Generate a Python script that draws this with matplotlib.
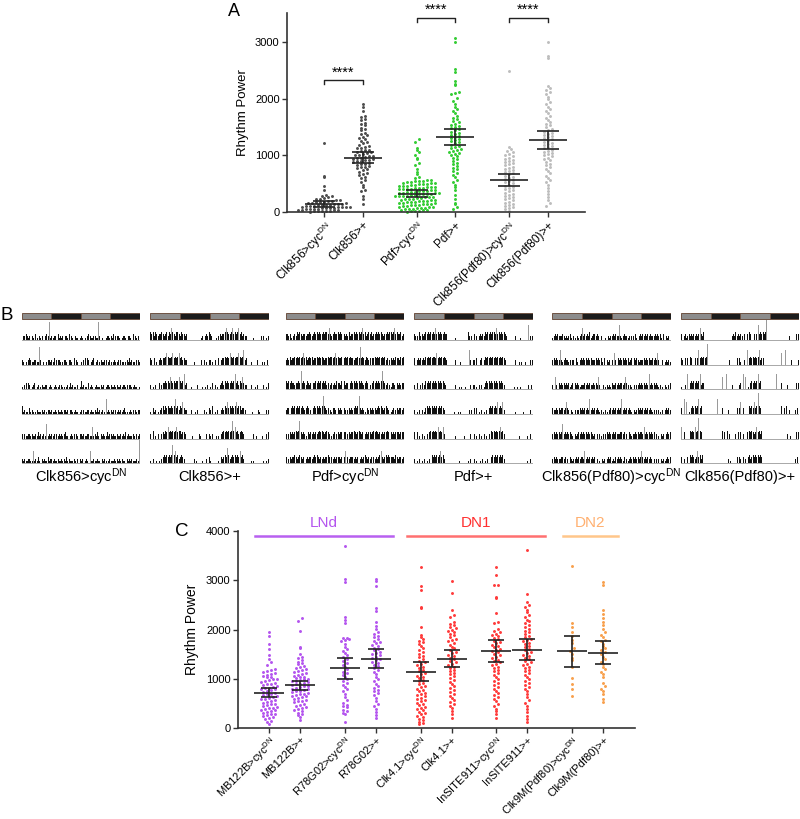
import numpy as np
import matplotlib
matplotlib.use("Agg")
import matplotlib.pyplot as plt
from matplotlib.patches import Rectangle

plt.rcParams["font.family"] = ["Liberation Sans", "DejaVu Sans"]
plt.rcParams["mathtext.fontset"] = "custom"
plt.rcParams["mathtext.rm"] = "Liberation Sans"
plt.rcParams["mathtext.it"] = "Liberation Sans:italic"

# ---------------- panel A data ----------------
a_labels = ["Clk856>cyc$^{\\rm DN}$", "Clk856>+", "Pdf>cyc$^{\\rm DN}$", "Pdf>+",
            "Clk856(Pdf80)>cyc$^{\\rm DN}$", "Clk856(Pdf80)>+"]
a_colors = ["#4d4d4d", "#4d4d4d", "#33cc33", "#33cc33", "#bdbdbd", "#bdbdbd"]
a_means = [140, 960, 320, 1320, 560, 1270]
a_err = [50, 100, 60, 140, 105, 155]

a_clk_cyc = [1210, 640, 610, 450, 380, 300, 285, 270, 255, 240, 232, 220, 210, 200, 195, 185,
             180, 172, 165, 160, 152, 148, 140, 135, 130, 126, 120, 115, 110, 106, 100, 96,
             92, 88, 84, 80, 75, 70, 66, 62, 58, 54, 50, 45, 40, 36, 32, 28, 24, 20, 16,
             12, 8, 4, 0]
a_clk_wt = [1910, 1860, 1790, 1690, 1670, 1650, 1630, 1580, 1560, 1530, 1480, 1460, 1440,
            1400, 1380, 1350, 1330, 1300, 1280, 1260, 1230, 1210, 1190, 1170, 1150, 1130,
            1120, 1100, 1090, 1080, 1060, 1050, 1040, 1030, 1010, 1000, 990, 980, 970, 960,
            950, 940, 930, 920, 910, 900, 890, 880, 860, 850, 840, 830, 810, 800, 790, 770,
            750, 730, 710, 690, 670, 650, 620, 590, 560, 520, 480, 430, 390, 370, 280, 220, 140]
a_pdf_cyc = [1290, 1240, 1130, 1100, 1050, 1000, 950, 930, 870, 820, 760, 700, 670, 620, 600,
             562, 556, 549, 545, 538, 531, 522, 516, 509, 503, 498, 493, 487, 472, 466, 461,
             457, 452, 446, 441, 431, 426, 419, 414, 409, 404, 400, 396, 382, 376, 369, 366,
             360, 354, 351, 347, 339, 336, 331, 324, 319, 314, 309, 305, 301, 292, 286, 281,
             274, 271, 264, 259, 254, 242, 236, 229, 226, 219, 214, 208, 203, 191, 186, 181,
             174, 169, 166, 158, 154, 150, 141, 134, 131, 124, 119, 114, 106, 97, 91, 84,
             81, 74, 69, 62, 56, 46, 41, 34, 29, 24, 18, 12, 6, 0]
a_pdf_wt = [3080, 3010, 2530, 2480, 2320, 2270, 2240, 2120, 2100, 2080, 2010, 1960, 1900, 1860,
            1820, 1780, 1740, 1700, 1660, 1640, 1610, 1590, 1560, 1540, 1520, 1500, 1480, 1460,
            1440, 1420, 1400, 1380, 1360, 1340, 1320, 1300, 1290, 1270, 1250, 1230, 1210, 1190,
            1170, 1150, 1130, 1110, 1090, 1080, 1060, 1040, 1020, 1000, 980, 960, 930, 900,
            870, 840, 810, 780, 750, 720, 690, 650, 610, 570, 530, 480, 430, 380, 300, 220,
            160, 140, 90, 50]
a_p80_cyc = [2500, 1140, 1110, 1080, 1050, 1020, 1000, 980, 960, 940, 920, 900, 880, 860, 840,
             820, 800, 780, 760, 740, 720, 700, 680, 660, 640, 620, 600, 580, 560, 540, 520,
             500, 480, 460, 440, 420, 400, 380, 360, 340, 320, 300, 280, 260, 240, 220, 200,
             180, 160, 140, 120, 100, 80, 60, 40, 20]
a_p80_wt = [3000, 2760, 2730, 2220, 2190, 2160, 2120, 2080, 2040, 1990, 1940, 1900, 1860, 1820,
            1780, 1740, 1700, 1660, 1620, 1590, 1560, 1530, 1500, 1470, 1440, 1420, 1400, 1380,
            1360, 1340, 1320, 1300, 1280, 1260, 1240, 1220, 1200, 1180, 1160, 1140, 1120, 1100,
            1080, 1060, 1040, 1020, 1000, 980, 960, 940, 910, 880, 850, 820, 790, 760, 720,
            680, 640, 600, 560, 520, 470, 420, 370, 320, 260, 200, 150, 100]
a_data = [a_clk_cyc, a_clk_wt, a_pdf_cyc, a_pdf_wt, a_p80_cyc, a_p80_wt]

# ---------------- panel B data (30-min bins, one string per day) ----------------
b_labels = ["Clk856>cyc$^{\\rm DN}$", "Clk856>+", "Pdf>cyc$^{\\rm DN}$", "Pdf>+",
            "Clk856(Pdf80)>cyc$^{\\rm DN}$", "Clk856(Pdf80)>+"]
b_days = [
    ["02232120 21031021 20023271 21220312 12022130 21021131",
     "21010232 11221172 01001221 21302221 01221022 10302120",
     "10230320 12301201 21122012 10121120 21101213 12110221",
     "41211031 21012111 21201221 21121211 21221202 21121101",
     "20211221 21121312 12016121 21202121 21231101 21202122",
     "21211221 15121310 21211312 21211211 21213121 11210212",
     "12012105 11211211 02121012 11121212 12110212 12111219"],
    ["43424323 34323424 35432443 24332300 00000000 01202324",
     "32030102 32334543 34534345 34232200 00010000 02020102",
     "20102003 02334343 54343445 43462300 01000020 00101020",
     "10312010 23424343 34346342 43532200 02001020 00020103",
     "20401020 02324353 43434534 42332000 00100002 10000202",
     "10200101 02343434 34745342 34320000 00020100 00100203",
     "10020001 03234364 23434343 53420000 01010000 00010102"],
    ["33231023 24343233 23343234 34343343 44353234 33434323",
     "23242334 34343453 42343423 34343432 33434434 53433423",
     "43434332 33437343 24323033 43434343 42302323 24332434",
     "23303434 34343432 34302034 34343474 32302133 20323233",
     "20232323 43473232 10323232 32343432 34320123 02323323",
     "30232334 32343230 23233234 34323232 33430323 23332333",
     "50323332 32302323 43232303 23234532 34343333 24323323"],
    ["32204232 34343434 35343433 43300000 01000000 00042020",
     "30232323 24343434 43534343 43200000 02000100 00006202",
     "20300230 24343434 34343434 32000000 02001010 01000202",
     "20102020 13434343 43434343 20000000 10010100 00002020",
     "30301020 10203434 34353435 20000000 01000000 10000200",
     "20102010 20102043 43434534 20000000 00001000 00010200",
     "20100102 01020034 34343434 20000000 00000000 00010200"],
    ["12323222 32121231 02102123 52323241 23323202 00010212",
     "23232262 12322120 22031023 23232323 22232323 10302120",
     "20520323 23232312 30323212 22323232 23232520 02012121",
     "32232323 32353202 10202232 32323262 32323212 01021023",
     "23232323 62323232 10212323 23232323 21202021 02023232",
     "23232223 32302032 12232323 32523232 32302010 21202323",
     "12132323 21302123 23232323 53232323 20202020 21212323"],
    ["30231232 32323235 32400000 00000000 00000000 02324232",
     "32030304 30030363 43434800 00000000 00000002 00000303",
     "10020603 43434346 23300000 00000000 05006000 02000002",
     "30605010 34343463 40000000 00000600 03000020 00000303",
     "50300004 34353484 30000000 00000000 04030402 00002030",
     "30200304 34323534 24000000 00000000 00000020 10000303",
     "20302034 23434343 43000000 00000000 00000000 00002030"],
]
# bar height (px) for each activity digit
b_scale = [0, 2.2, 4.2, 6.2, 8.0, 12, 15, 18, 21, 24]

# ---------------- panel C data ----------------
c_labels = ["MB122B>cyc$^{\\rm DN}$", "MB122B>+", "R78G02>cyc$^{\\rm DN}$", "R78G02>+",
            "Clk4.1>cyc$^{\\rm DN}$", "Clk4.1>+", "InSITE911>cyc$^{\\rm DN}$", "InSITE911>+",
            "Clk9M(Pdf80)>cyc$^{\\rm DN}$", "Clk9M(Pdf80)>+"]
c_means = [720, 870, 1220, 1410, 1150, 1410, 1570, 1590, 1560, 1530]
c_err = [90, 90, 215, 195, 185, 170, 220, 215, 310, 235]
c_groups = ["LNd", "DN1", "DN2"]
c_group_colors = ["#b455ee", "#ff3030", "#ffb070"]
c_line_colors = ["#b860f0", "#ff7070", "#ffc68a"]
c_point_colors = ["#b455ee"] * 4 + ["#ff3b3b"] * 4 + ["#f8a04c"] * 2

c1 = [1960, 1880, 1700, 1610, 1480, 1400, 1340, 1290, 1200, 1180, 1160, 1150, 1120, 1100,
      1080, 1070, 1050, 1030, 1000, 990, 970, 960, 940, 920, 900, 890, 870, 860, 840, 820,
      810, 800, 790, 770, 750, 740, 720, 700, 690, 670, 650, 640, 620, 600, 590, 570, 560,
      540, 520, 500, 490, 470, 450, 440, 420, 410, 400, 380, 370, 350, 330, 320, 300, 280,
      260, 250, 220, 200, 180, 150, 120, 90]
c2 = [2230, 2180, 1970, 1650, 1620, 1500, 1450, 1420, 1380, 1350, 1320, 1300, 1270, 1250,
      1220, 1200, 1180, 1160, 1140, 1120, 1100, 1090, 1070, 1050, 1040, 1020, 1000, 990, 970,
      960, 950, 930, 920, 900, 890, 870, 860, 850, 830, 820, 800, 790, 780, 760, 750, 730,
      720, 700, 690, 680, 660, 650, 630, 620, 600, 580, 560, 550, 530, 500, 480, 460, 440,
      420, 400, 380, 350, 320, 300, 260, 220, 170]
c3 = [3700, 3030, 2970, 2260, 2200, 2130, 1840, 1830, 1810, 1790, 1760, 1700, 1650, 1600,
      1560, 1520, 1480, 1450, 1400, 1360, 1320, 1280, 1250, 1200, 1150, 1120, 1080, 1050,
      1000, 960, 920, 870, 830, 790, 750, 700, 640, 580, 520, 480, 460, 440, 380, 350, 320,
      300, 120]
c4 = [3020, 2980, 2880, 2430, 2370, 2160, 2080, 2010, 1960, 1920, 1880, 1850, 1810, 1780,
      1750, 1720, 1690, 1660, 1630, 1600, 1580, 1550, 1520, 1500, 1480, 1450, 1430, 1400,
      1380, 1350, 1320, 1290, 1260, 1230, 1190, 1150, 1100, 1050, 1000, 950, 900, 860, 820,
      780, 760, 720, 680, 620, 560, 500, 450, 400, 330, 270, 210]
c5 = [3270, 2880, 2800, 2450, 2430, 2060, 1900, 1860, 1820, 1780, 1740, 1700, 1660, 1620,
      1580, 1540, 1500, 1470, 1440, 1400, 1370, 1340, 1310, 1280, 1250, 1220, 1190, 1160,
      1130, 1100, 1070, 1040, 1010, 980, 950, 920, 890, 860, 830, 800, 780, 750, 720, 700,
      680, 650, 620, 600, 580, 550, 520, 500, 470, 440, 420, 400, 370, 340, 310, 280, 250,
      220, 190, 160, 130, 100, 80]
c6 = [2990, 2750, 2400, 2300, 2250, 2150, 2120, 2090, 2060, 2030, 2000, 1980, 1950, 1920,
      1890, 1850, 1820, 1790, 1760, 1720, 1690, 1650, 1620, 1580, 1550, 1520, 1490, 1460,
      1430, 1400, 1370, 1340, 1310, 1280, 1250, 1220, 1190, 1160, 1130, 1100, 1060, 1020,
      980, 940, 900, 860, 820, 780, 740, 700, 660, 620, 580, 540, 500, 460, 420, 350, 280, 210]
c7 = [3280, 3110, 2910, 2900, 2670, 2640, 2330, 2150, 2140, 2010, 1980, 1950, 1920, 1900,
      1870, 1840, 1810, 1780, 1750, 1720, 1690, 1660, 1640, 1610, 1590, 1560, 1540, 1510,
      1480, 1450, 1420, 1390, 1360, 1340, 1310, 1280, 1250, 1220, 1190, 1160, 1120, 1080,
      1040, 1000, 960, 920, 880, 840, 800, 760, 720, 680, 640, 600, 550, 500, 450, 400, 350,
      280, 200]
c8 = [3620, 2730, 2560, 2500, 2460, 2400, 2350, 2300, 2250, 2200, 2170, 2140, 2100, 2060,
      2020, 1980, 1950, 1920, 1880, 1850, 1820, 1790, 1760, 1730, 1700, 1670, 1640, 1610,
      1580, 1550, 1520, 1490, 1460, 1430, 1400, 1370, 1340, 1310, 1280, 1250, 1220, 1190,
      1160, 1120, 1080, 1040, 1000, 960, 920, 880, 840, 800, 760, 700, 640, 580, 520, 460,
      400, 330, 250, 180, 130]
c9 = [3300, 2140, 2050, 1950, 1870, 1800, 1720, 1620, 1560, 1500, 1430, 1380, 1250, 1020,
      900, 790, 660]
c10 = [2960, 2900, 2400, 2310, 2240, 2150, 2100, 2020, 1960, 1900, 1850, 1800, 1760, 1700,
       1660, 1620, 1580, 1540, 1500, 1450, 1400, 1350, 1300, 1250, 1200, 1150, 1100, 1050,
       920, 850, 800, 760, 700, 600, 540]
c_data = [c1, c2, c3, c4, c5, c6, c7, c8, c9, c10]

# ---------------- layout helpers ----------------
W, H = 800, 819
fig = plt.figure(figsize=(8, 8.19), dpi=100)


def box(x0, y0, x1, y1):
    return [x0 / W, 1 - y1 / H, (x1 - x0) / W, (y1 - y0) / H]


def swarm(vals, xc, ppy, ppx, dy=3.4, dx=4.0):
    v = np.sort(np.asarray(vals, float))
    rows = np.round(v * ppy / dy).astype(int)
    xs = np.empty_like(v)
    for r in np.unique(rows):
        idx = np.where(rows == r)[0]
        offs = (np.arange(len(idx)) - (len(idx) - 1) / 2) * dx
        xs[idx] = xc + offs / ppx
    return xs, v


def style_axis(ax):
    for s in ["top", "right"]:
        ax.spines[s].set_visible(False)
    for s in ["left", "bottom"]:
        ax.spines[s].set_linewidth(1.2)
        ax.spines[s].set_color("#333333")
    ax.tick_params(length=3.5, width=1.0, color="#333333", labelsize=8, pad=2)


def dotplot(ax, pos, data, colors, means, errs, ppy, ppx, half_mean, half_cap):
    for x, vals, col, m, e in zip(pos, data, colors, means, errs):
        xs, ys = swarm(vals, x, ppy, ppx)
        ax.scatter(xs, ys, s=4.5, c=col, linewidths=0, clip_on=False, zorder=2)
        ax.hlines(m, x - half_mean, x + half_mean, color="#222222", lw=1.2, zorder=3)
        ax.vlines(x, m - e, m + e, color="#222222", lw=1.2, zorder=3)
        ax.hlines([m - e, m + e], x - half_cap, x + half_cap, color="#222222", lw=1.2, zorder=3)


# ---------------- panel A ----------------
axA = fig.add_axes(box(287.3, 13, 585, 211.7))
xA = [0, 1, 2.4, 3.4, 4.8, 5.8]
pxA, pyA = 38.5, 56.47 / 1000
dotplot(axA, xA, a_data, a_colors, a_means, a_err, pyA, pxA, 19 / pxA, 11 / pxA)
axA.set_xlim(-0.96, 6.77)
axA.set_ylim(0, 3520)
axA.set_yticks([0, 1000, 2000, 3000])
axA.set_xticks(xA)
axA.set_xticklabels(a_labels, rotation=45, ha="right", va="top", rotation_mode="anchor",
                    fontsize=8.5)
axA.set_ylabel("Rhythm Power", fontsize=9.5, labelpad=4)
style_axis(axA)
axA.tick_params(axis="x", labelsize=8.5)

for (i, j), yb in zip([(0, 1), (2, 3), (4, 5)], [2330, 3440, 3440]):
    axA.plot([xA[i], xA[i], xA[j], xA[j]], [yb - 75, yb, yb, yb - 75], color="#222222",
             lw=1.0, clip_on=False)
    axA.text((xA[i] + xA[j]) / 2, yb + 10, "****", ha="center", va="bottom", fontsize=10.5,
             clip_on=False)

fig.text(228 / W, 1 - 15.5 / H, "A", fontsize=13, va="baseline")

# ---------------- panel B ----------------
b_x = [(21.7, 140), (150, 269.3), (285.7, 404), (414, 533.3), (552.3, 670.7), (681, 799.5)]
row_base = [340 + 24.65 * r for r in range(6)]
for (x0, x1), days, lab in zip(b_x, b_days, b_labels):
    ax = fig.add_axes(box(x0, 300, x1, 470))
    ax.set_xlim(0, 96)
    ax.set_ylim(470, 300)
    ax.axis("off")
    vals = []
    for d in days:
        s = d.replace(" ", "")
        assert len(s) == 48
        vals.append([int(c) for c in s])
    for r in range(6):
        h = np.array([b_scale[v] for v in vals[r] + vals[r + 1]], float)
        cols = ["#9a9a9a" if v > 10 else "#111111" for v in h]
        ax.bar(np.arange(96) + 0.5, -h, bottom=row_base[r], width=0.8, color=cols,
               linewidth=0)
        ax.plot([0, 96], [row_base[r], row_base[r]], color="#a8a8a8", lw=0.7)
    for k, fc in enumerate(["#8c8c8c", "#1c1c1c", "#8c8c8c", "#1c1c1c"]):
        ax.add_patch(Rectangle((24 * k, 313.3), 24, 5.7, facecolor=fc, edgecolor="#6e5242",
                               lw=0.7))
    ax.text(48, 477, lab, ha="center", va="center", fontsize=10.5, clip_on=False)

fig.text(0 / W, 1 - 320 / H, "B", fontsize=13.5, va="baseline")

# ---------------- panel C ----------------
axC = fig.add_axes(box(238.3, 531, 635, 728.3))
xC = [0, 1, 2.45, 3.45, 4.9, 5.9, 7.35, 8.35, 9.8, 10.8]
pxC, pyC = 30.95, 49.3 / 1000
dotplot(axC, xC, c_data, c_point_colors, c_means, c_err, pyC, pxC, 15 / pxC, 8 / pxC)
axC.set_xlim(-0.99, 11.83)
axC.set_ylim(0, 4000)
axC.set_yticks([0, 1000, 2000, 3000, 4000])
axC.set_xticks(xC)
axC.set_xticklabels(c_labels, rotation=45, ha="right", va="top", rotation_mode="anchor",
                    fontsize=7.1)
axC.set_ylabel("Rhythm Power", fontsize=10, labelpad=5)
style_axis(axC)
axC.tick_params(axis="x", pad=1.0)

for name, col, lcol, (l0, l1) in zip(c_groups, c_group_colors, c_line_colors,
                                     [(-0.45, 4.02), (4.47, 8.93), (9.49, 11.29)]):
    axC.plot([l0, l1], [3900, 3900], color=lcol, lw=1.8, clip_on=False)
    axC.text((l0 + l1) / 2, 4170, name, color=col, ha="center", va="center", fontsize=11,
             clip_on=False)

fig.text(175 / W, 1 - 535.5 / H, "C", fontsize=13.5, va="baseline")

fig.savefig("out.png", dpi=100)
